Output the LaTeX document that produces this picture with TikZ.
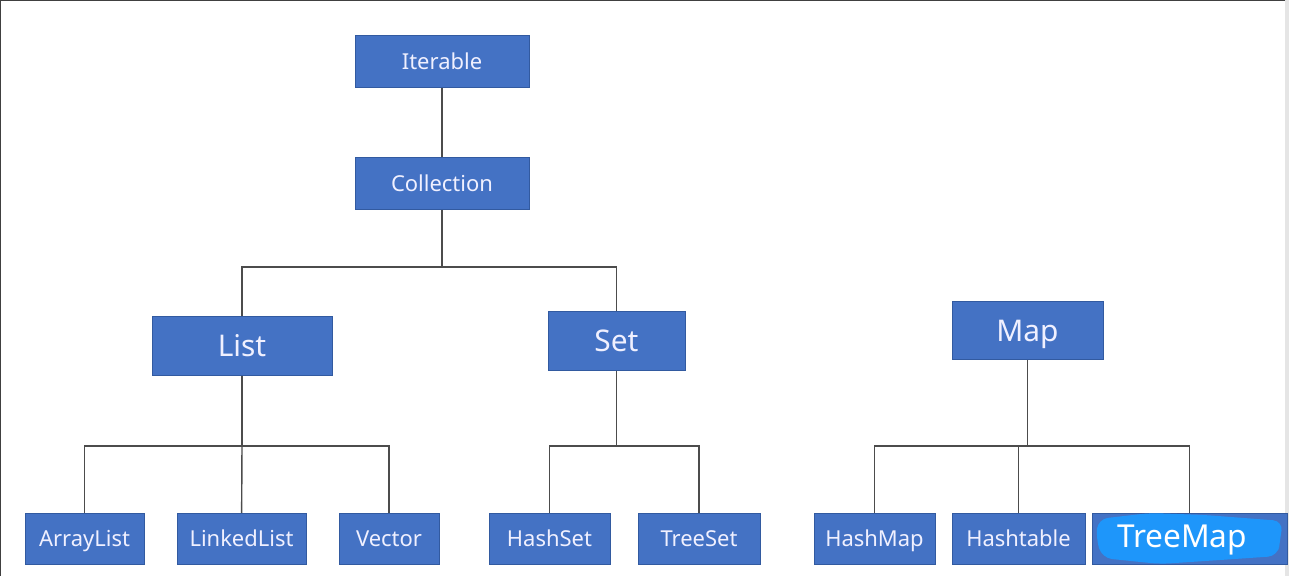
\documentclass[tikz,border=0pt]{standalone}
\usepackage{fontspec}
\setmainfont{Noto Sans}
\usepackage{tikz}
\usetikzlibrary{positioning}

\definecolor{boxblue}{RGB}{68,114,196}
\definecolor{boxedge}{RGB}{50,90,160}
\definecolor{markblue}{RGB}{30,150,250}

\begin{document}
\begin{tikzpicture}[
    x=0.02cm, y=-0.02cm,
    box/.style={rectangle, draw=boxedge, fill=boxblue, text=white!94!blue, inner sep=0pt, text height=9.5pt, text depth=0.5pt, minimum height=1.03cm, font=\fontsize{12.5}{14}\selectfont},
    bigbox/.style={box, text height=12.8pt, text depth=0.6pt, minimum height=1.17cm, font=\fontsize{17}{19}\selectfont},
    line/.style={draw=black!70, line width=0.8pt}
]
\useasboundingbox (0,0) rectangle (1289,576);
\draw[black!75, line width=1pt] (0,576) -- (0,0) -- (1289,0);
\fill[black!10] (1285,0) rectangle (1289,576);

% Top
\node[box, minimum width=3.48cm] (iterable) at (442,61.5) {Iterable};
\node[box, minimum width=3.48cm] (collection) at (442,183.5) {Collection};

% Second level
\node[bigbox, minimum width=3.6cm] (list) at (242,346) {List};
\node[bigbox, minimum width=2.74cm] (set) at (616.5,341) {Set};
\node[bigbox, minimum width=3.02cm] (map) at (1027.5,330.5) {Map};

% Leaves
\node[box, minimum width=2.38cm] (arraylist) at (84.5,539) {ArrayList};
\node[box, minimum width=2.58cm] (linkedlist) at (241.5,539) {LinkedList};
\node[box, minimum width=2.0cm] (vector) at (389,539) {Vector};
\node[box, minimum width=2.42cm] (hashset) at (549.5,539) {HashSet};
\node[box, minimum width=2.44cm] (treeset) at (699,539) {TreeSet};
\node[box, minimum width=2.42cm] (hashmap) at (874.5,539) {HashMap};
\node[box, minimum width=2.66cm] (hashtable) at (1018.5,539) {Hashtable};
\node[box, minimum width=3.9cm] (treemapbox) at (1189.5,539) {};
\fill[markblue, rounded corners=0.2cm] (1098,519) -- (1150,513) -- (1205,515) -- (1283,521) -- (1280,540) -- (1278,556) -- (1220,560) -- (1160,564) -- (1102,558) -- (1096,538) -- cycle;
\node[text=white, text height=10.5pt, text depth=0.5pt, inner sep=0pt, font=\fontsize{18}{21}\selectfont] (treemap) at (1182,539) {TreeMap};

% Bus points
\coordinate (cbus) at (442,267);
\coordinate (lbus) at (242,446);
\coordinate (sbus) at (616.5,446);
\coordinate (mbus) at (1027.5,446);

% Connectors
\draw[line] (iterable) -- (collection);
\draw[line] (collection) -- (cbus) -| (list);
\draw[line] (cbus) -| (set);

\draw[line] (list) -- (lbus) -| (arraylist);
\draw[line] (lbus) -- (linkedlist);
\draw[line] (lbus) -| (vector);

\draw[line] (set) -- (sbus) -| (hashset);
\draw[line] (sbus) -| (treeset);

\draw[line] (map) -- (mbus) -| (hashmap);
\draw[line] (mbus) -| (hashtable);
\draw[line] (mbus) -| (treemapbox);

\end{tikzpicture}
\end{document}
